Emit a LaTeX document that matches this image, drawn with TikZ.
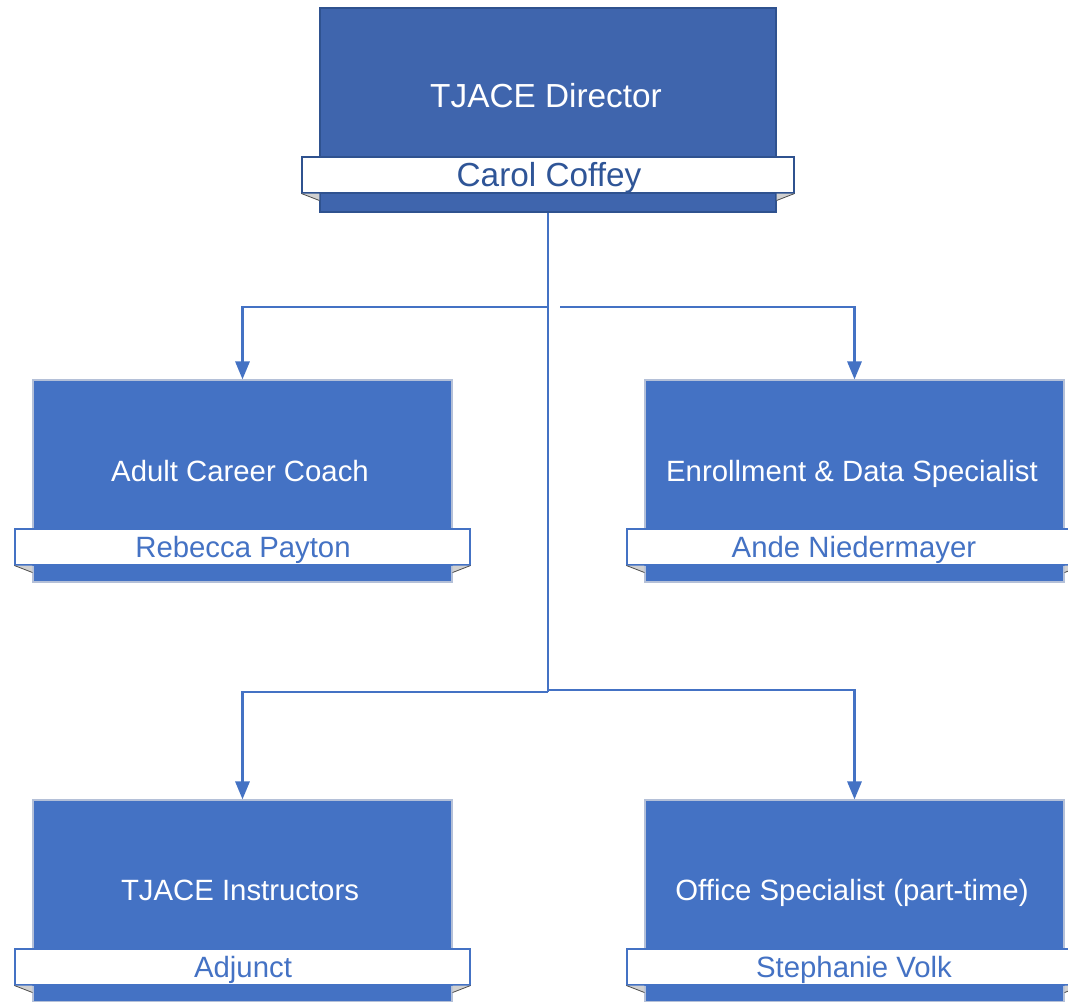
\documentclass[tikz,border=0pt]{standalone}
\usepackage{fontspec}
\setmainfont{Liberation Sans}
\usetikzlibrary{arrows.meta}
\definecolor{topblue}{HTML}{3F65AD}
\definecolor{topedge}{HTML}{2F528F}
\definecolor{unitblue}{HTML}{4472C4}
\definecolor{unitedge}{HTML}{B4C0D8}
\definecolor{nameblue}{HTML}{2F5597}
\definecolor{foldgray}{HTML}{D0D0D0}
\tikzset{
	topbox/.style={draw=topedge, fill=topblue, line width=0.8pt, minimum width=342pt, minimum height=153pt, inner sep=0pt},
	unitbox/.style={draw=unitedge, fill=unitblue, line width=0.8pt, minimum width=314.25pt, minimum height=151.5pt, inner sep=0pt},
	toptitle/.style={text=white, font=\fontsize{25}{30}\selectfont, text height=18pt, text depth=0pt},
	unittitle/.style={text=white, font=\fontsize{22}{26}\selectfont, text height=16pt, text depth=0pt},
	topribbon/.style={draw=topedge, fill=white, line width=0.8pt, minimum width=369pt, minimum height=27pt, inner sep=0pt},
	unitribbon/.style={draw=unitblue, fill=white, line width=0.8pt, minimum width=341.25pt, minimum height=27pt, inner sep=0pt},
	link/.style={draw=unitblue, line width=2.2pt},
	linkarrow/.style={link, -{Triangle[length=13.5pt, width=10.5pt]}}
}
\newcommand{\ribbonfolds}[2]{
	\fill[foldgray] (#2.south west) -- (#1.west |- #2.south) -- ([yshift=-5.25pt]#1.west |- #2.south) -- cycle;
	\draw[black!70, line width=0.6pt] (#2.south west) -- ([yshift=-5.25pt]#1.west |- #2.south);
	\fill[foldgray] (#2.south east) -- (#1.east |- #2.south) -- ([yshift=-5.25pt]#1.east |- #2.south) -- cycle;
	\draw[black!70, line width=0.6pt] (#2.south east) -- ([yshift=-5.25pt]#1.east |- #2.south);
}
\begin{document}
\begin{tikzpicture}[x=0.75pt, y=-0.75pt]
			\useasboundingbox (0,0) rectangle (1068,1002);
			\clip (0,0) rectangle (1068,1002);
			
			\node[topbox](dir) at (548,110) {};
			\node[unitbox](coach) at (242.5,481) {};
			\node[unitbox](enroll) at (854.5,481) {};
			\node[unitbox](instr) at (242.5,901) {};
			\node[unitbox](office) at (854.5,901) {};
			
			\node[topribbon](dirname) at (548,175) {};
			\node[unitribbon](coachname) at (242.5,547) {};
			\node[unitribbon](enrollname) at (854.5,547) {};
			\node[unitribbon](instrname) at (242.5,967) {};
			\node[unitribbon](officename) at (854.5,967) {};
			
			\ribbonfolds{dir}{dirname}
			\ribbonfolds{coach}{coachname}
			\ribbonfolds{enroll}{enrollname}
			\ribbonfolds{instr}{instrname}
			\ribbonfolds{office}{officename}
			
			\node[toptitle](dirtitle) at (546,96) {TJACE Director};
			\node[unittitle](coachtitle) at (240,471) {Adult Career Coach};
			\node[unittitle](enrolltitle) at (852,471) {Enrollment \& Data Specialist};
			\node[unittitle](instrtitle) at (240,890) {TJACE Instructors};
			\node[unittitle](officetitle) at (852,890) {Office Specialist (part-time)};
			
			\node[toptitle, text=nameblue](dirperson) at (549,175) {Carol Coffey};
			\node[unittitle, text=unitblue](coachperson) at (243,547) {Rebecca Payton};
			\node[unittitle, text=unitblue](enrollperson) at (854,547) {Ande Niedermayer};
			\node[unittitle, text=unitblue](instrperson) at (243,967) {Adjunct};
			\node[unittitle, text=unitblue](officeperson) at (854,967) {Stephanie Volk};
			
			\coordinate[](hub1) at (548,307);
			\coordinate[](hub2) at (548,692);
			
			\draw[link](dir.south)--(hub2);
			\draw[linkarrow](hub1) -| (coach.north);
			\draw[linkarrow]([xshift=9pt]hub1) -| (enroll.north);
			\draw[linkarrow](hub2) -| (instr.north);
			\draw[linkarrow]([yshift=1.5pt]hub2) -| (office.north);
			\end{tikzpicture}
\end{document}
